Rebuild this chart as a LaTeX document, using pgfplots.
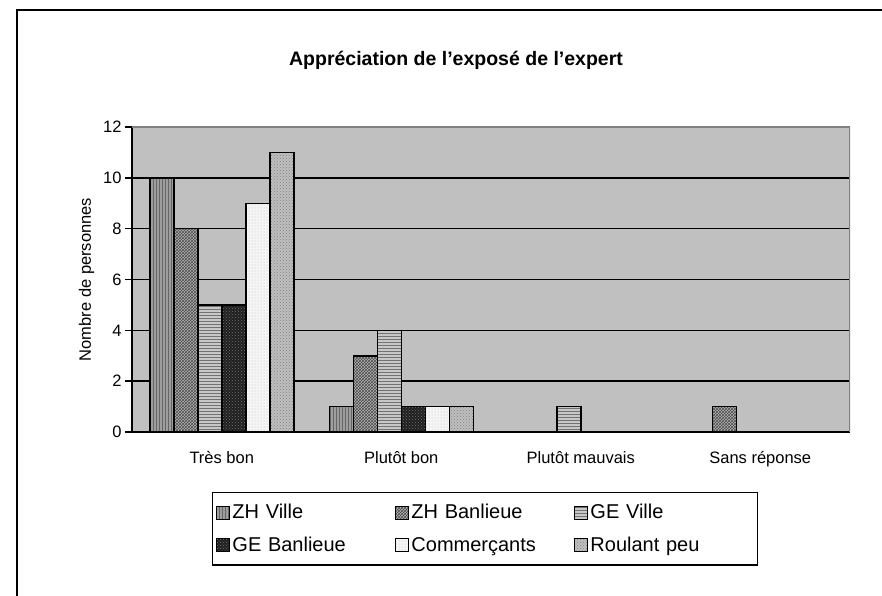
\documentclass[border=0pt]{standalone}
\usepackage{fontspec}
\setmainfont{Liberation Sans}
\usepackage{pgfplots}
\pgfplotsset{compat=1.18}
\usetikzlibrary{patterns}
\definecolor{plotbg}{RGB}{192,192,192}
\definecolor{edgegray}{RGB}{128,128,128}
\begin{document}
\begin{tikzpicture}[x=1pt,y=1pt]
\useasboundingbox (0,0) rectangle (882,595);
\begin{scope}
\clip (0,0) rectangle (882,595);
\draw[line width=2pt,black] (16.5,-20) -- (16.5,584.5) -- (900,584.5);
\end{scope}
\node[font=\bfseries\fontsize{19.5}{23}\selectfont] at (456,535) {Appréciation de l'exposé de l'expert};
\begin{axis}[
  at={(132pt,163pt)}, anchor=south west,
  scale only axis, width=718pt, height=305pt,
  xmin=-0.5, xmax=3.5, ymin=0, ymax=12,
  ybar=0pt, bar width=24pt,
  axis background/.style={fill=plotbg},
  axis x line*=bottom, axis y line*=left,
  axis line style={-, line width=1.5pt, black},
  xtick={0,1,2,3},
  xticklabels={Très bon, Plutôt bon, Plutôt mauvais, Sans réponse},
  x tick style={draw=none},
  extra x ticks={0.5,1.5,2.5},
  extra x tick labels={},
  extra x tick style={tick align=inside, major tick length=5pt, tick style={draw=black, line width=1.5pt}},
  ytick={0,2,...,12},
  y tick style={line width=1.5pt, black},
  tick align=outside, major tick length=7pt,
  ymajorgrids, grid style={line width=1.5pt, black},
  /pgf/number format/assume math mode=true,
  ticklabel style={font=\fontsize{16.5}{19}\selectfont},
  xticklabel style={yshift=-9pt},
  ylabel={Nombre de personnes},
  ylabel style={font=\fontsize{16.5}{19}\selectfont, yshift=2pt},
  legend columns=3,
  legend cell align=left,
  legend style={at={(0.4916,-0.1967)}, anchor=north, draw=black, line width=1.5pt,
     font=\fontsize{20}{24}\selectfont, row sep=13pt, inner xsep=4pt, inner ysep=10pt,
     /tikz/every odd column/.append style={column sep=0pt},
     /tikz/every even column/.append style={column sep=0pt, text width=161pt, text height=14pt, text depth=4pt}},
  legend image code/.code={\draw[#1, line width=1pt] (0pt,-6.5pt) rectangle (13pt,6.5pt);},
  every axis plot/.append style={draw=black, line width=1.5pt},
]
\addplot[fill=black!38, postaction={pattern=vertical lines, pattern color=black!60}] coordinates {(0,10) (1,1) (2,0) (3,0)};
\addplot[fill=black!30, postaction={pattern=crosshatch, pattern color=black!70}] coordinates {(0,8) (1,3) (2,0) (3,1)};
\addplot[fill=black!22, postaction={pattern=horizontal lines, pattern color=black!55}] coordinates {(0,5) (1,4) (2,1) (3,0)};
\addplot[fill=black!88, postaction={pattern=crosshatch dots, pattern color=black!55}] coordinates {(0,5) (1,1) (2,0) (3,0)};
\addplot[fill=black!4, postaction={pattern=dots, pattern color=black!25}] coordinates {(0,9) (1,1) (2,0) (3,0)};
\addplot[fill=black!25, postaction={pattern=crosshatch dots, pattern color=black!50}] coordinates {(0,11) (1,1) (2,0) (3,0)};
\legend{ZH Ville, ZH Banlieue, GE Ville, GE Banlieue, Commerçants, Roulant peu}
\draw[edgegray, line width=1.5pt] (rel axis cs:0,1) -- (rel axis cs:1,1) -- (rel axis cs:1,0);
\end{axis}
\end{tikzpicture}
\end{document}
